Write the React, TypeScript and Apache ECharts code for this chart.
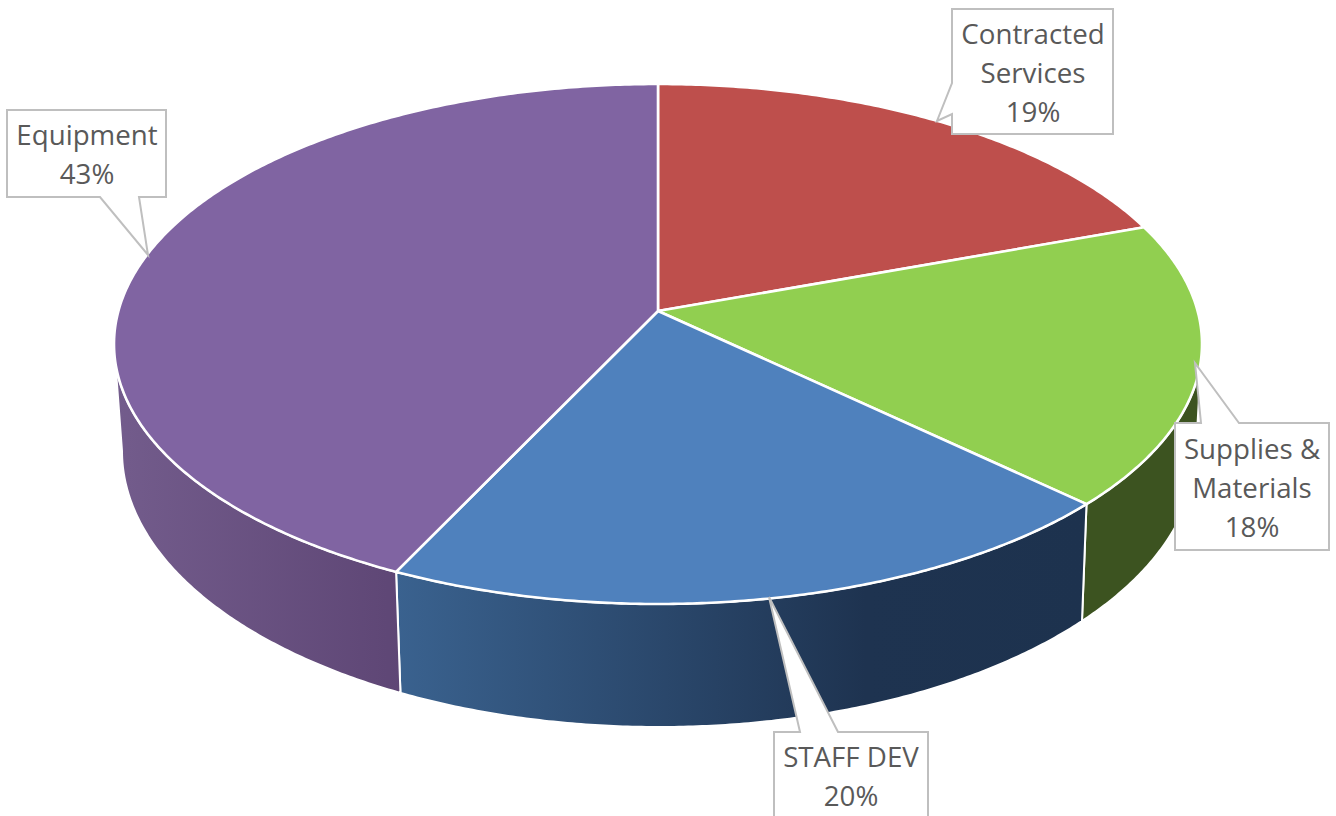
import React, { useEffect, useRef } from "react";
import * as echarts from "echarts";

const categories = ["Contracted\nServices", "Supplies &\nMaterials", "STAFF DEV", "Equipment"];
const values = [19.45, 17.65, 19.97, 42.93];
const topColors = ["#BE4F4C", "#91CF50", "#4F81BD", "#8064A2"];

// geometry of the tilted pie
const TOP = { cx: 658, cy: 344, rx: 544, ry: 260 };
const BOTTOM = { cx: 659, cy: 451, rx: 537, ry: 276 };
const APEX_SHIFT = 33 / 260;
const APEX = { x: 658, y: 311 };

// callouts: outline including the pointer, and the text centre
const callouts = [
  { points: [[952, 9], [1113, 9], [1113, 134], [952, 134], [952, 114], [937, 121], [952, 83]], tx: 1033, ty: 72 },
  { points: [[1175, 423], [1201, 423], [1195, 363], [1239, 423], [1329, 423], [1329, 550], [1175, 550]], tx: 1252, ty: 487 },
  { points: [[774, 732], [800, 732], [769, 597], [838, 732], [928, 732], [928, 830], [774, 830]], tx: 851, ty: 775.5 },
  { points: [[7, 110], [166, 110], [166, 197], [139, 197], [148, 255], [100, 197], [7, 197]], tx: 87, ty: 153.5 },
];

const total = values.reduce((a, b) => a + b, 0);
let running = 0;
const rows = values.map((v, i) => {
  const row = [running, running + v, i];
  running += v;
  return row;
});

// percent share -> angle on the drawn ellipse (perspective shift of a circle)
function shareToPhi(share: number): number {
  if (share >= total - 1e-6) return 360;
  const th = (share / total) * Math.PI * 2;
  const x = Math.sin(th);
  const y = Math.cos(th);
  const d = 1 + APEX_SHIFT * y;
  const xp = (x * Math.sqrt(1 - APEX_SHIFT * APEX_SHIFT)) / d;
  const yp = (y + APEX_SHIFT) / d;
  let phi = (Math.atan2(xp, yp) * 180) / Math.PI;
  if (phi < 0) phi += 360;
  return phi;
}

function arc(e: typeof TOP, a: number, b: number): number[][] {
  const pts: number[][] = [];
  const n = Math.max(2, Math.ceil(Math.abs(b - a) * 2));
  for (let i = 0; i <= n; i++) {
    const p = ((a + ((b - a) * i) / n) * Math.PI) / 180;
    pts.push([e.cx + e.rx * Math.sin(p), e.cy - e.ry * Math.cos(p)]);
  }
  return pts;
}

const grad = (stops: [number, string][]) =>
  new echarts.graphic.LinearGradient(0, 0, 1, 0, stops.map(([offset, color]) => ({ offset, color })));

const wallFills: any[] = [
  null,
  "#3C5320",
  grad([[0, "#3A628F"], [0.68, "#1E3350"], [1, "#1D324E"]]),
  grad([[0, "#735C8C"], [1, "#5E4675"]]),
];

const FONT = '"Open Sans", "Noto Sans", sans-serif';

export default function App() {
  const ref = useRef<HTMLDivElement>(null);
  useEffect(() => {
    if (!ref.current) return;
    const chart = echarts.init(ref.current, undefined, { renderer: "svg" });
    chart.setOption({
      animation: false,
      backgroundColor: "#ffffff",
      tooltip: { show: false },
      series: [
        {
          type: "custom",
          coordinateSystem: "none",
          z: 1,
          silent: true,
          data: rows,
          renderItem: (_p: any, api: any) => {
            const i = api.value(2);
            const a = Math.max(90, shareToPhi(api.value(0)));
            const b = Math.min(270, shareToPhi(api.value(1)));
            if (b <= a) return null;
            return {
              type: "polygon",
              shape: { points: [...arc(TOP, a, b), ...arc(BOTTOM, b, a)] },
              style: { fill: wallFills[i], stroke: "#ffffff", lineWidth: 2, lineJoin: "round" },
            };
          },
        },
        {
          type: "custom",
          coordinateSystem: "none",
          z: 2,
          silent: true,
          data: rows,
          renderItem: (_p: any, api: any) => {
            const i = api.value(2);
            const a = shareToPhi(api.value(0));
            const b = shareToPhi(api.value(1));
            return {
              type: "polygon",
              shape: { points: [[APEX.x, APEX.y], ...arc(TOP, a, b)] },
              style: { fill: topColors[i], stroke: "#ffffff", lineWidth: 2.6, lineJoin: "round" },
            };
          },
        },
        {
          type: "custom",
          coordinateSystem: "none",
          z: 3,
          silent: true,
          data: rows,
          renderItem: (_p: any, api: any) => {
            const i = api.value(2);
            const c = callouts[i];
            return {
              type: "group",
              children: [
                {
                  type: "polygon",
                  shape: { points: c.points },
                  style: { fill: "#ffffff", stroke: "#BFBFBF", lineWidth: 2 },
                },
                {
                  type: "text",
                  style: {
                    x: c.tx,
                    y: c.ty,
                    text: `${categories[i]}\n${Math.round(values[i])}%`,
                    align: "center",
                    verticalAlign: "middle",
                    fill: "#595959",
                    font: `27.7px ${FONT}`,
                    lineHeight: 39,
                  },
                },
              ],
            };
          },
        },
      ],
    });
    return () => chart.dispose();
  }, []);
  return (
    <div
      ref={ref}
      style={{ position: "absolute", left: 0, top: 0, width: 1336, height: 816, background: "#fff" }}
    />
  );
}
